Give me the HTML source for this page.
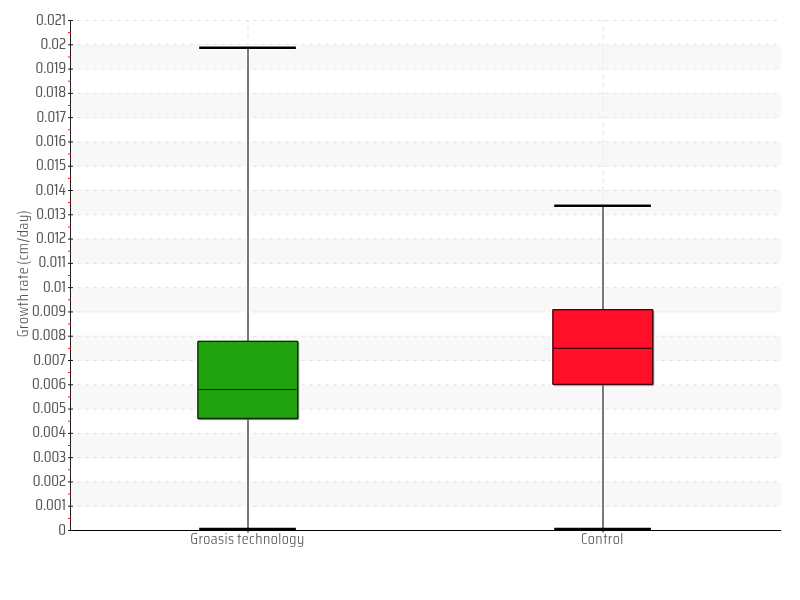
<!DOCTYPE html>
<html><head><meta charset="utf-8"><title>Growth rate box plot</title>
<style>
html,body{margin:0;padding:0;background:#fff;width:800px;height:600px;overflow:hidden}
svg{display:block;will-change:transform}
.t{font-family:'Saira Condensed', 'Liberation Sans Narrow', 'Liberation Sans', sans-serif;font-weight:400;font-size:16px;fill:#555}
</style></head><body>
<svg width="800" height="600" viewBox="0 0 800 600">
<rect width="800" height="600" fill="#fff"/>
<rect x="70.5" y="481.93" width="710.5" height="24.29" fill="#f8f8f8"/>
<rect x="70.5" y="433.36" width="710.5" height="24.29" fill="#f8f8f8"/>
<rect x="70.5" y="384.79" width="710.5" height="24.29" fill="#f8f8f8"/>
<rect x="70.5" y="336.21" width="710.5" height="24.29" fill="#f8f8f8"/>
<rect x="70.5" y="287.64" width="710.5" height="24.29" fill="#f8f8f8"/>
<rect x="70.5" y="239.07" width="710.5" height="24.29" fill="#f8f8f8"/>
<rect x="70.5" y="190.50" width="710.5" height="24.29" fill="#f8f8f8"/>
<rect x="70.5" y="141.93" width="710.5" height="24.29" fill="#f8f8f8"/>
<rect x="70.5" y="93.36" width="710.5" height="24.29" fill="#f8f8f8"/>
<rect x="70.5" y="44.79" width="710.5" height="24.29" fill="#f8f8f8"/>
<line x1="69" y1="506.21" x2="781" y2="506.21" stroke="#e3e3e3" stroke-width="1" stroke-dasharray="4 4"/>
<line x1="69" y1="481.93" x2="781" y2="481.93" stroke="#e3e3e3" stroke-width="1" stroke-dasharray="4 4"/>
<line x1="69" y1="457.64" x2="781" y2="457.64" stroke="#e3e3e3" stroke-width="1" stroke-dasharray="4 4"/>
<line x1="69" y1="433.36" x2="781" y2="433.36" stroke="#e3e3e3" stroke-width="1" stroke-dasharray="4 4"/>
<line x1="69" y1="409.07" x2="781" y2="409.07" stroke="#e3e3e3" stroke-width="1" stroke-dasharray="4 4"/>
<line x1="69" y1="384.79" x2="781" y2="384.79" stroke="#e3e3e3" stroke-width="1" stroke-dasharray="4 4"/>
<line x1="69" y1="360.50" x2="781" y2="360.50" stroke="#e3e3e3" stroke-width="1" stroke-dasharray="4 4"/>
<line x1="69" y1="336.21" x2="781" y2="336.21" stroke="#e3e3e3" stroke-width="1" stroke-dasharray="4 4"/>
<line x1="69" y1="311.93" x2="781" y2="311.93" stroke="#e3e3e3" stroke-width="1" stroke-dasharray="4 4"/>
<line x1="69" y1="287.64" x2="781" y2="287.64" stroke="#e3e3e3" stroke-width="1" stroke-dasharray="4 4"/>
<line x1="69" y1="263.36" x2="781" y2="263.36" stroke="#e3e3e3" stroke-width="1" stroke-dasharray="4 4"/>
<line x1="69" y1="239.07" x2="781" y2="239.07" stroke="#e3e3e3" stroke-width="1" stroke-dasharray="4 4"/>
<line x1="69" y1="214.79" x2="781" y2="214.79" stroke="#e3e3e3" stroke-width="1" stroke-dasharray="4 4"/>
<line x1="69" y1="190.50" x2="781" y2="190.50" stroke="#e3e3e3" stroke-width="1" stroke-dasharray="4 4"/>
<line x1="69" y1="166.21" x2="781" y2="166.21" stroke="#e3e3e3" stroke-width="1" stroke-dasharray="4 4"/>
<line x1="69" y1="141.93" x2="781" y2="141.93" stroke="#e3e3e3" stroke-width="1" stroke-dasharray="4 4"/>
<line x1="69" y1="117.64" x2="781" y2="117.64" stroke="#e3e3e3" stroke-width="1" stroke-dasharray="4 4"/>
<line x1="69" y1="93.36" x2="781" y2="93.36" stroke="#e3e3e3" stroke-width="1" stroke-dasharray="4 4"/>
<line x1="69" y1="69.07" x2="781" y2="69.07" stroke="#e3e3e3" stroke-width="1" stroke-dasharray="4 4"/>
<line x1="69" y1="44.79" x2="781" y2="44.79" stroke="#e3e3e3" stroke-width="1" stroke-dasharray="4 4"/>
<line x1="69" y1="20.50" x2="781" y2="20.50" stroke="#e3e3e3" stroke-width="1" stroke-dasharray="4 4"/>
<line x1="248" y1="20" x2="248" y2="530" stroke="#ececec" stroke-width="1.5" stroke-dasharray="4 4" stroke-dashoffset="1"/>
<line x1="603" y1="20" x2="603" y2="530" stroke="#ececec" stroke-width="1.5" stroke-dasharray="4 4" stroke-dashoffset="1"/>
<line x1="248" y1="47.8" x2="248" y2="529.0" stroke="#fff" stroke-width="4.4"/>
<line x1="198" y1="47.8" x2="297.1" y2="47.8" stroke="#fff" stroke-width="4.4"/>
<rect x="195.9" y="339.1" width="104.79999999999998" height="82.39999999999999" fill="#fff"/>
<rect x="198.25" y="341.85" width="101.09999999999998" height="78.49999999999999" rx="1.3" fill="rgba(40,20,50,0.35)"/>
<line x1="248" y1="47.8" x2="248" y2="529.0" stroke="#787878" stroke-width="2"/>
<line x1="199.2" y1="47.8" x2="295.9" y2="47.8" stroke="#000" stroke-width="2.4"/>
<line x1="199.2" y1="529.0" x2="295.9" y2="529.0" stroke="#000" stroke-width="2.4"/>
<rect x="197.25" y="340.65000000000003" width="101.09999999999998" height="78.49999999999999" rx="1.3" fill="#21a30f"/>
<rect x="197.9" y="341.3" width="99.79999999999998" height="77.19999999999999" rx="0.6" fill="none" stroke="#000" stroke-opacity="0.75" stroke-width="1.3"/>
<line x1="198.5" y1="389.5" x2="296.5" y2="389.5" stroke="#000" stroke-opacity="0.75" stroke-width="1.2"/>
<line x1="603" y1="205.8" x2="603" y2="529.0" stroke="#fff" stroke-width="4.4"/>
<line x1="553" y1="205.8" x2="652.1" y2="205.8" stroke="#fff" stroke-width="4.4"/>
<rect x="550.9" y="307.40000000000003" width="104.80000000000007" height="79.89999999999999" fill="#fff"/>
<rect x="553.25" y="310.15000000000003" width="101.10000000000007" height="75.99999999999999" rx="1.3" fill="rgba(20,50,50,0.4)"/>
<line x1="603" y1="205.8" x2="603" y2="529.0" stroke="#787878" stroke-width="2"/>
<line x1="554.2" y1="205.8" x2="650.9" y2="205.8" stroke="#000" stroke-width="2.4"/>
<line x1="554.2" y1="529.0" x2="650.9" y2="529.0" stroke="#000" stroke-width="2.4"/>
<rect x="552.25" y="308.95000000000005" width="101.10000000000007" height="75.99999999999999" rx="1.3" fill="#ff0f28"/>
<rect x="552.9" y="309.6" width="99.80000000000007" height="74.69999999999999" rx="0.6" fill="none" stroke="#000" stroke-opacity="0.75" stroke-width="1.3"/>
<line x1="553.5" y1="348.4" x2="651.5" y2="348.4" stroke="#000" stroke-opacity="0.75" stroke-width="1.2"/>
<line x1="70.5" y1="20" x2="70.5" y2="531" stroke="#1e1e1e" stroke-width="1"/>
<line x1="68" y1="530.5" x2="781" y2="530.5" stroke="#000" stroke-width="1.2"/>
<line x1="68" y1="530.50" x2="73" y2="530.50" stroke="#1e1e1e" stroke-width="1"/>
<line x1="68" y1="506.21" x2="73" y2="506.21" stroke="#1e1e1e" stroke-width="1"/>
<line x1="68" y1="481.93" x2="73" y2="481.93" stroke="#1e1e1e" stroke-width="1"/>
<line x1="68" y1="457.64" x2="73" y2="457.64" stroke="#1e1e1e" stroke-width="1"/>
<line x1="68" y1="433.36" x2="73" y2="433.36" stroke="#1e1e1e" stroke-width="1"/>
<line x1="68" y1="409.07" x2="73" y2="409.07" stroke="#1e1e1e" stroke-width="1"/>
<line x1="68" y1="384.79" x2="73" y2="384.79" stroke="#1e1e1e" stroke-width="1"/>
<line x1="68" y1="360.50" x2="73" y2="360.50" stroke="#1e1e1e" stroke-width="1"/>
<line x1="68" y1="336.21" x2="73" y2="336.21" stroke="#1e1e1e" stroke-width="1"/>
<line x1="68" y1="311.93" x2="73" y2="311.93" stroke="#1e1e1e" stroke-width="1"/>
<line x1="68" y1="287.64" x2="73" y2="287.64" stroke="#1e1e1e" stroke-width="1"/>
<line x1="68" y1="263.36" x2="73" y2="263.36" stroke="#1e1e1e" stroke-width="1"/>
<line x1="68" y1="239.07" x2="73" y2="239.07" stroke="#1e1e1e" stroke-width="1"/>
<line x1="68" y1="214.79" x2="73" y2="214.79" stroke="#1e1e1e" stroke-width="1"/>
<line x1="68" y1="190.50" x2="73" y2="190.50" stroke="#1e1e1e" stroke-width="1"/>
<line x1="68" y1="166.21" x2="73" y2="166.21" stroke="#1e1e1e" stroke-width="1"/>
<line x1="68" y1="141.93" x2="73" y2="141.93" stroke="#1e1e1e" stroke-width="1"/>
<line x1="68" y1="117.64" x2="73" y2="117.64" stroke="#1e1e1e" stroke-width="1"/>
<line x1="68" y1="93.36" x2="73" y2="93.36" stroke="#1e1e1e" stroke-width="1"/>
<line x1="68" y1="69.07" x2="73" y2="69.07" stroke="#1e1e1e" stroke-width="1"/>
<line x1="68" y1="44.79" x2="73" y2="44.79" stroke="#1e1e1e" stroke-width="1"/>
<line x1="68" y1="20.50" x2="73" y2="20.50" stroke="#1e1e1e" stroke-width="1"/>
<line x1="68" y1="518.36" x2="71" y2="518.36" stroke="#ff1010" stroke-width="1"/>
<line x1="68" y1="494.07" x2="71" y2="494.07" stroke="#ff1010" stroke-width="1"/>
<line x1="68" y1="469.79" x2="71" y2="469.79" stroke="#ff1010" stroke-width="1"/>
<line x1="68" y1="445.50" x2="71" y2="445.50" stroke="#ff1010" stroke-width="1"/>
<line x1="68" y1="421.21" x2="71" y2="421.21" stroke="#ff1010" stroke-width="1"/>
<line x1="68" y1="396.93" x2="71" y2="396.93" stroke="#ff1010" stroke-width="1"/>
<line x1="68" y1="372.64" x2="71" y2="372.64" stroke="#ff1010" stroke-width="1"/>
<line x1="68" y1="348.36" x2="71" y2="348.36" stroke="#ff1010" stroke-width="1"/>
<line x1="68" y1="324.07" x2="71" y2="324.07" stroke="#ff1010" stroke-width="1"/>
<line x1="68" y1="299.79" x2="71" y2="299.79" stroke="#ff1010" stroke-width="1"/>
<line x1="68" y1="275.50" x2="71" y2="275.50" stroke="#ff1010" stroke-width="1"/>
<line x1="68" y1="251.21" x2="71" y2="251.21" stroke="#ff1010" stroke-width="1"/>
<line x1="68" y1="226.93" x2="71" y2="226.93" stroke="#ff1010" stroke-width="1"/>
<line x1="68" y1="202.64" x2="71" y2="202.64" stroke="#ff1010" stroke-width="1"/>
<line x1="68" y1="178.36" x2="71" y2="178.36" stroke="#ff1010" stroke-width="1"/>
<line x1="68" y1="154.07" x2="71" y2="154.07" stroke="#ff1010" stroke-width="1"/>
<line x1="68" y1="129.79" x2="71" y2="129.79" stroke="#ff1010" stroke-width="1"/>
<line x1="68" y1="105.50" x2="71" y2="105.50" stroke="#ff1010" stroke-width="1"/>
<line x1="68" y1="81.21" x2="71" y2="81.21" stroke="#ff1010" stroke-width="1"/>
<line x1="68" y1="56.93" x2="71" y2="56.93" stroke="#ff1010" stroke-width="1"/>
<line x1="68" y1="32.64" x2="71" y2="32.64" stroke="#ff1010" stroke-width="1"/>
<line x1="248" y1="531" x2="248" y2="532.6" stroke="#777" stroke-width="2"/>
<line x1="603" y1="531" x2="603" y2="532.6" stroke="#777" stroke-width="2"/>
<text x="66" y="535" text-anchor="end" class="t" textLength="7.75" lengthAdjust="spacingAndGlyphs">0</text>
<text x="66" y="510" text-anchor="end" class="t" textLength="30.73" lengthAdjust="spacingAndGlyphs">0.001</text>
<text x="66" y="486" text-anchor="end" class="t" textLength="33.31" lengthAdjust="spacingAndGlyphs">0.002</text>
<text x="66" y="462" text-anchor="end" class="t" textLength="33.11" lengthAdjust="spacingAndGlyphs">0.003</text>
<text x="66" y="437" text-anchor="end" class="t" textLength="33.83" lengthAdjust="spacingAndGlyphs">0.004</text>
<text x="66" y="413" text-anchor="end" class="t" textLength="33.38" lengthAdjust="spacingAndGlyphs">0.005</text>
<text x="66" y="389" text-anchor="end" class="t" textLength="33.95" lengthAdjust="spacingAndGlyphs">0.006</text>
<text x="66" y="365" text-anchor="end" class="t" textLength="32.80" lengthAdjust="spacingAndGlyphs">0.007</text>
<text x="66" y="340" text-anchor="end" class="t" textLength="34.19" lengthAdjust="spacingAndGlyphs">0.008</text>
<text x="66" y="316" text-anchor="end" class="t" textLength="33.95" lengthAdjust="spacingAndGlyphs">0.009</text>
<text x="66" y="292" text-anchor="end" class="t" textLength="22.98" lengthAdjust="spacingAndGlyphs">0.01</text>
<text x="66" y="267" text-anchor="end" class="t" textLength="27.38" lengthAdjust="spacingAndGlyphs">0.011</text>
<text x="66" y="243" text-anchor="end" class="t" textLength="29.95" lengthAdjust="spacingAndGlyphs">0.012</text>
<text x="66" y="219" text-anchor="end" class="t" textLength="29.75" lengthAdjust="spacingAndGlyphs">0.013</text>
<text x="66" y="195" text-anchor="end" class="t" textLength="30.47" lengthAdjust="spacingAndGlyphs">0.014</text>
<text x="66" y="170" text-anchor="end" class="t" textLength="30.02" lengthAdjust="spacingAndGlyphs">0.015</text>
<text x="66" y="146" text-anchor="end" class="t" textLength="30.59" lengthAdjust="spacingAndGlyphs">0.016</text>
<text x="66" y="122" text-anchor="end" class="t" textLength="29.44" lengthAdjust="spacingAndGlyphs">0.017</text>
<text x="66" y="97" text-anchor="end" class="t" textLength="30.83" lengthAdjust="spacingAndGlyphs">0.018</text>
<text x="66" y="73" text-anchor="end" class="t" textLength="30.59" lengthAdjust="spacingAndGlyphs">0.019</text>
<text x="66" y="49" text-anchor="end" class="t" textLength="25.58" lengthAdjust="spacingAndGlyphs">0.02</text>
<text x="66" y="25" text-anchor="end" class="t" textLength="29.95" lengthAdjust="spacingAndGlyphs">0.021</text>
<text x="247.45" y="544" text-anchor="middle" class="t" textLength="114.50" lengthAdjust="spacingAndGlyphs" style="font-weight:300;letter-spacing:0.470px;word-spacing:-1.0px">Groasis technology</text>
<text x="602.35" y="544" text-anchor="middle" class="t" textLength="42.80" lengthAdjust="spacingAndGlyphs" style="font-weight:300;letter-spacing:0.478px">Control</text>
<text transform="translate(28 273.55) rotate(-90)" x="0" y="0" text-anchor="middle" class="t" textLength="127.50" lengthAdjust="spacingAndGlyphs" style="font-weight:300;letter-spacing:0.601px;word-spacing:-1.5px">Growth rate (cm/day)</text>
</svg>
</body></html>
